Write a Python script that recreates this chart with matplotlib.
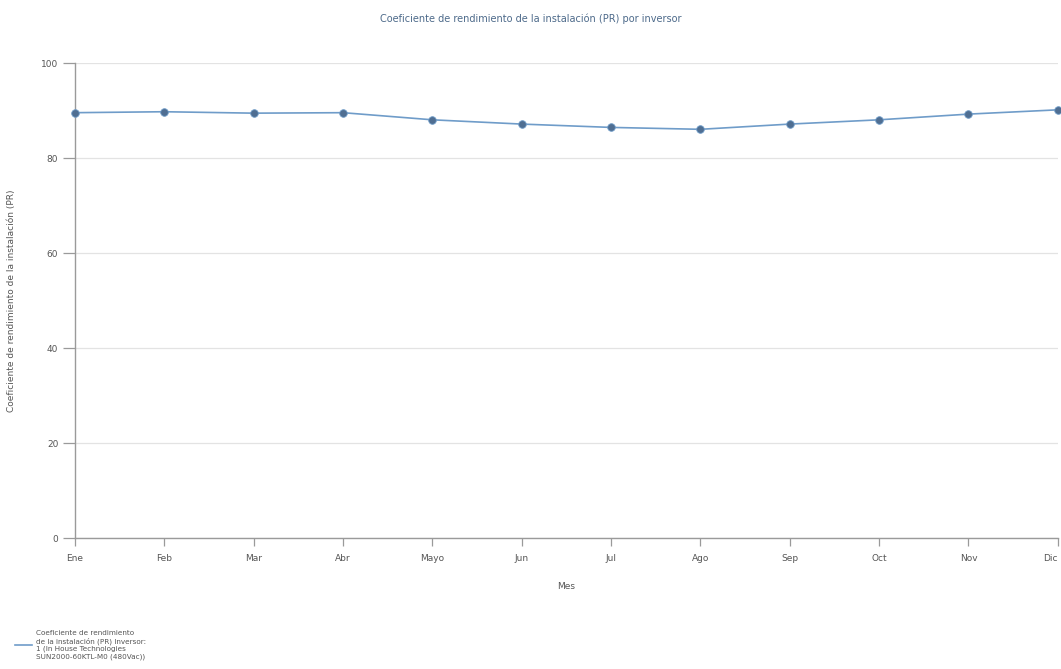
import matplotlib
matplotlib.use("Agg")
import matplotlib.pyplot as plt
from matplotlib.lines import Line2D

# monthly PR values per inverter (%)
months = ["Ene", "Feb", "Mar", "Abr", "Mayo", "Jun", "Jul", "Ago", "Sep", "Oct", "Nov", "Dic"]
pr = [89.6, 89.8, 89.5, 89.6, 88.1, 87.2, 86.5, 86.1, 87.2, 88.1, 89.3, 90.2]
yticks = [0, 20, 40, 60, 80, 100]

LINE = "#6f9cc9"
MARK = "#4f6e92"
AXIS = "#9a9a9a"
GRID = "#e3e3e3"
TXT = "#555555"

plt.rcParams.update({"font.family": "DejaVu Sans", "font.size": 6.5})

fig = plt.figure(figsize=(10.61, 6.69), dpi=100)
ax = fig.add_axes([0.0707, 0.1954, 0.9263, 0.71])

x = list(range(len(months)))
ax.plot(x, pr, color=LINE, linewidth=1.2, zorder=3)
ax.scatter(x, pr, s=30, color=MARK, edgecolor=LINE, linewidth=0.6, zorder=4,
           clip_on=False)

ax.set_xlim(0, len(months) - 1)
ax.set_ylim(0, 100)
ax.set_yticks(yticks)
ax.set_xticks(x)
ax.set_xticklabels(months)
ax.yaxis.grid(True, color=GRID, linewidth=0.9)
ax.set_axisbelow(True)
for s in ["top", "right"]:
    ax.spines[s].set_visible(False)
for s in ["left", "bottom"]:
    ax.spines[s].set_color(AXIS)
    ax.spines[s].set_linewidth(1.0)
ax.tick_params(axis="y", length=9, width=0.9, color=AXIS, labelcolor=TXT, pad=3)
ax.tick_params(axis="x", length=6, width=0.9, color=AXIS, labelcolor=TXT, pad=5)
# last month label sits at the right edge; anchor it so it stays inside
ax.get_xticklabels()[-1].set_horizontalalignment("right")

ax.set_xlabel("Mes", color=TXT, labelpad=14)
ax.set_ylabel("Coeficiente de rendimiento de la instalación (PR)", color=TXT, labelpad=18)

fig.text(0.5, 0.972, "Coeficiente de rendimiento de la instalación (PR) por inversor",
         ha="center", va="center", fontsize=7, color="#4d6a8a")

# legend block, bottom left
fig.add_artist(Line2D([0.014, 0.030], [0.036, 0.036], color=LINE, linewidth=1.2,
                      transform=fig.transFigure))
leg = ("Coeficiente de rendimiento\nde la instalación (PR) Inversor:\n"
       "1 (In House Technologies\nSUN2000-60KTL-M0 (480Vac))")
fig.text(0.034, 0.036, leg, ha="left", va="center", fontsize=5.2, color=TXT,
         linespacing=1.25)

fig.savefig("out.png", dpi=100)
